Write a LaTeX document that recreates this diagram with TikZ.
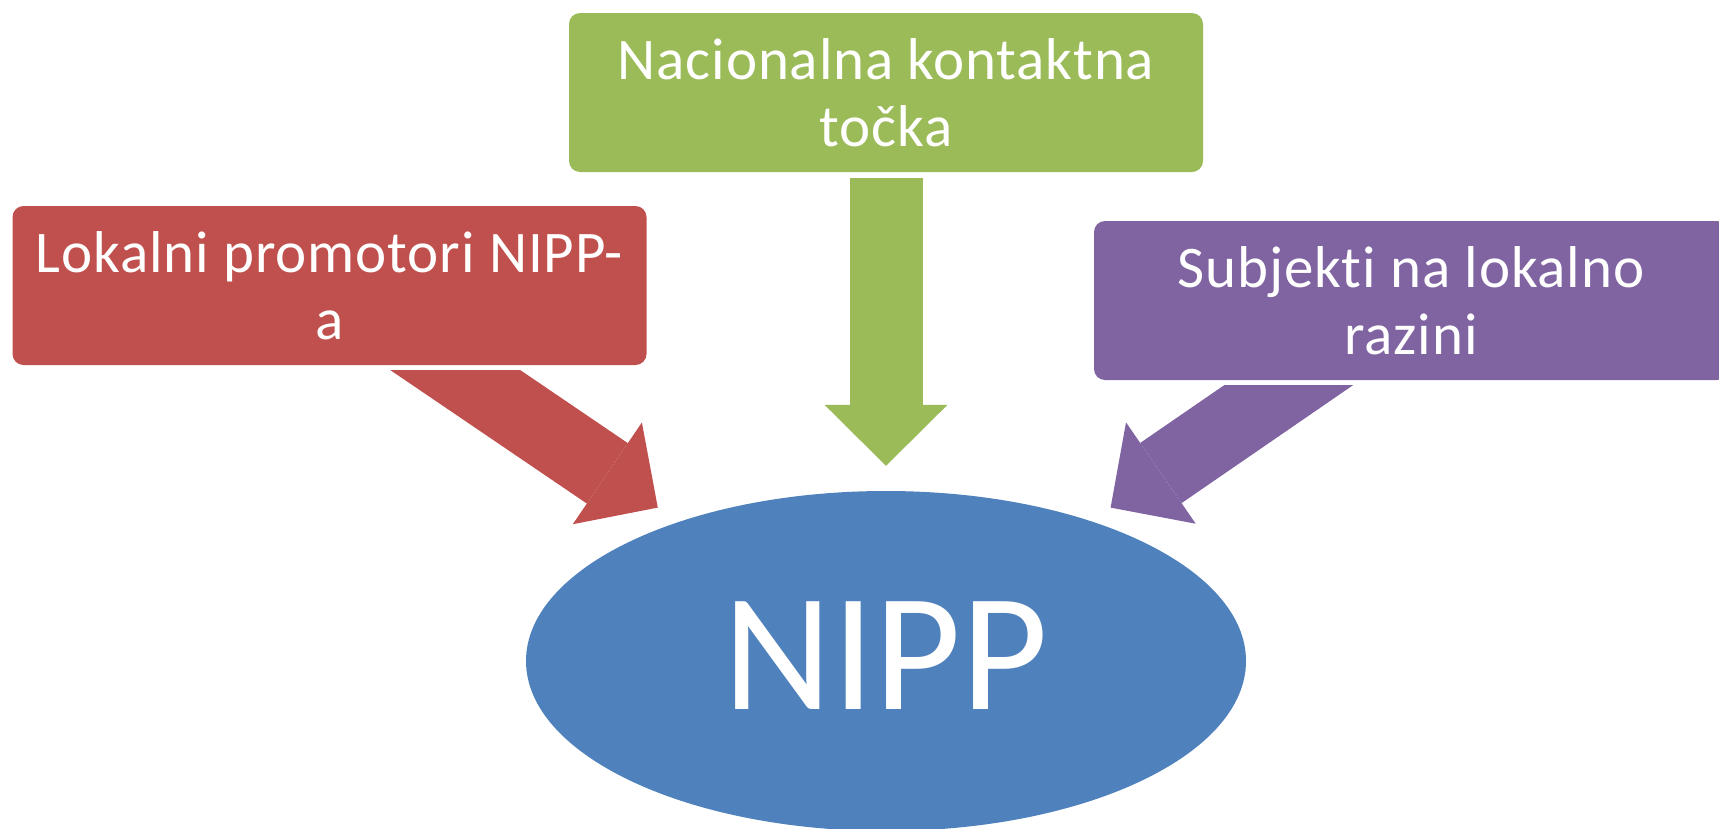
\documentclass[tikz,border=0pt]{standalone}
\usepackage{fontspec}
\setmainfont{Carlito}[Ligatures=NoCommon]
\usetikzlibrary{shapes.geometric,arrows.meta}
\definecolor{KontaktGreen}{HTML}{9BBB59}
\definecolor{PromotorRed}{HTML}{C0504D}
\definecolor{SubjektPurple}{HTML}{8064A2}
\definecolor{NippBlue}{HTML}{4F81BD}

\begin{document}
\begin{tikzpicture}[x=1pt,y=-1pt]
	\tikzset{
	  BoxStyle/.style = { rectangle, rounded corners=11pt,
	                      minimum width=634pt, minimum height=159pt,
	                      inner sep=0pt, text=white, align=center,
	                      font = \fontsize{59pt}{67pt}\selectfont\addfontfeature{LetterSpace=1.5} },
	  CenterStyle/.style = { ellipse, fill=NippBlue, inner sep=0pt,
	                         minimum width=720pt, minimum height=340pt,
	                         text=white, text height=108pt, text depth=12pt,
	                         font = \fontsize{168pt}{200pt}\selectfont },
	  ArrowStyle/.style = { line width=73pt,
	                        -{Triangle[length=61pt, width=123pt, line width=0pt]} } }
	\useasboundingbox (0,0) rectangle (1719,828);
	\clip (0,0) rectangle (1719,828);
	\node[CenterStyle] (nipp) at (886,661) {NIPP};
	\node[BoxStyle, fill=KontaktGreen] (nkt) at (886,92.5) {Nacionalna kontaktna\\točka};
	\node[BoxStyle, fill=PromotorRed] (lokalni) at (329.5,285.5) {Lokalni promotori NIPP-\\a};
	\node[BoxStyle, fill=SubjektPurple] (subjekti) at (1411,300.5) {Subjekti na lokalno\\razini};
	% arrows into NIPP
	\draw[ArrowStyle, KontaktGreen] ([yshift=-6pt]nkt.south) -- ([yshift=25pt]nipp.north);
	\coordinate (lokalni-tail) at (406.4,336.9);
	\coordinate (lokalni-tip) at (657.8,507.6);
	\coordinate (subjekti-tail) at (1337,351.9);
	\coordinate (subjekti-tip) at (1110.6,507.6);
	\begin{scope}
	  \clip (0,370.6) rectangle (886,828);
	  \draw[ArrowStyle, PromotorRed] (lokalni-tail) -- (lokalni-tip);
	\end{scope}
	\begin{scope}
	  \clip (886,385.9) rectangle (1719,828);
	  \draw[ArrowStyle, SubjektPurple] (subjekti-tail) -- (subjekti-tip);
	\end{scope}
\end{tikzpicture}
\end{document}
